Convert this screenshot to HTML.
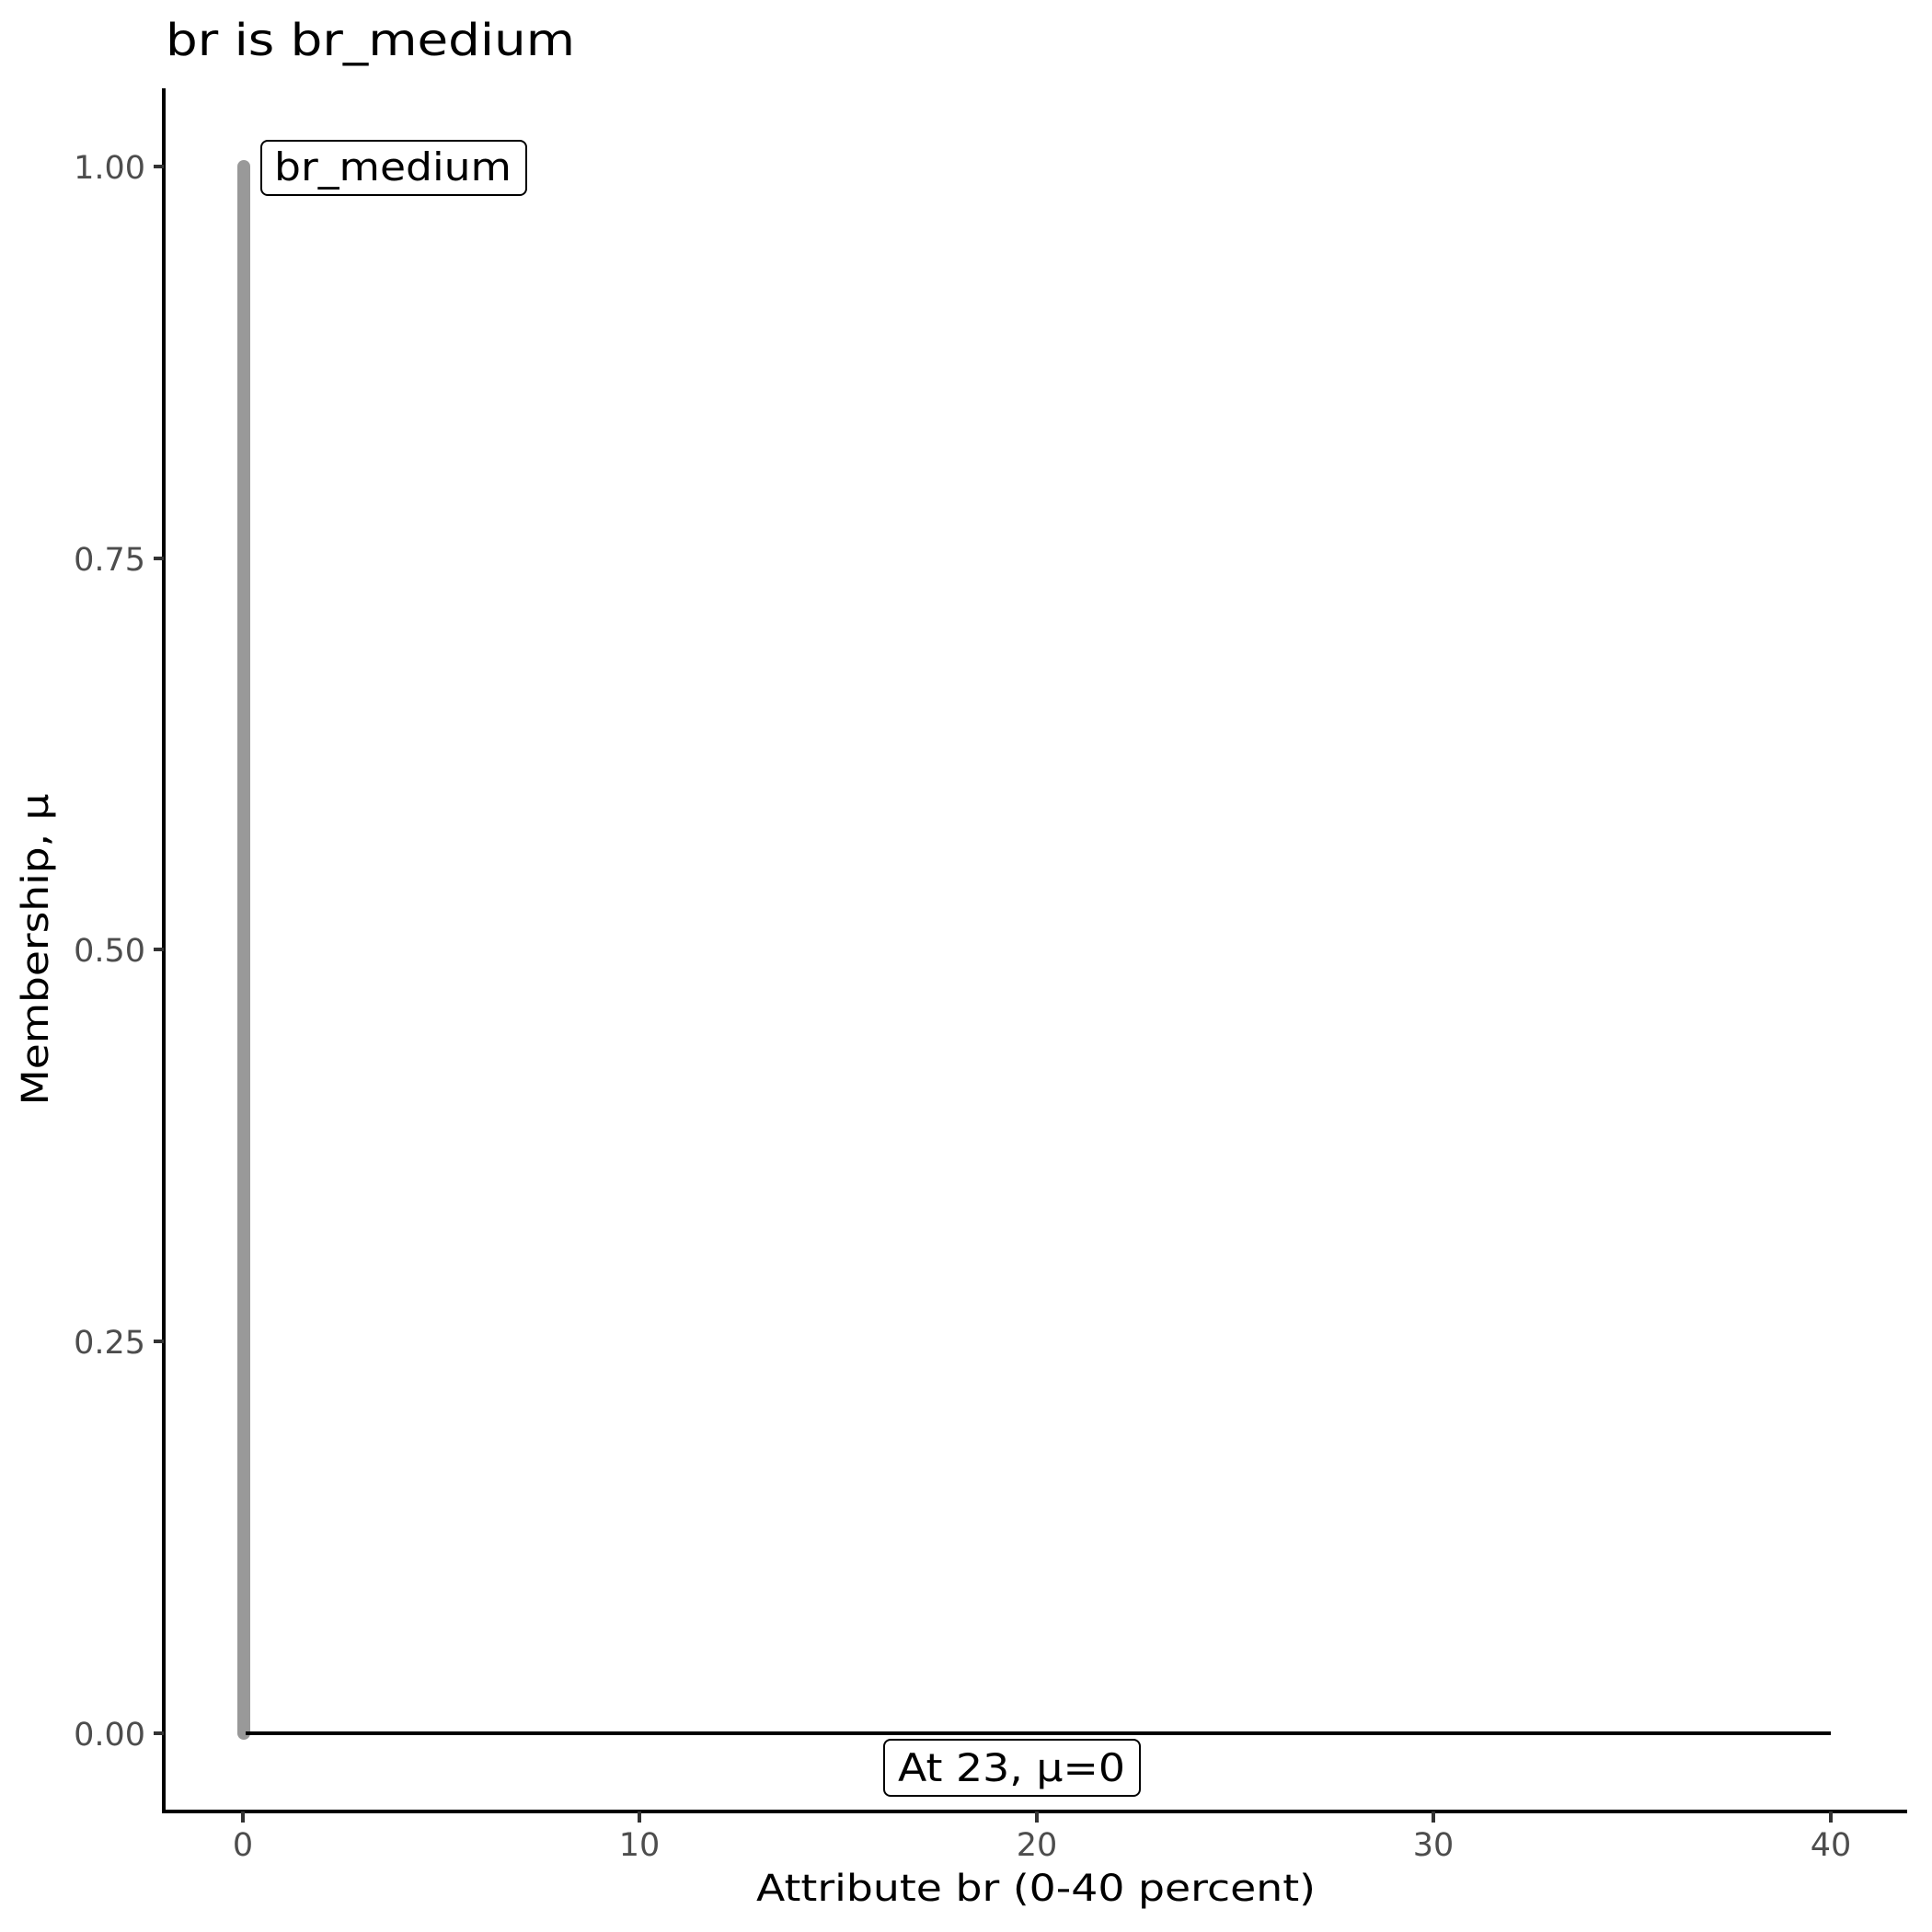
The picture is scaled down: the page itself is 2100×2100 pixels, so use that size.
<!DOCTYPE html>
<html><head><style>html,body{margin:0;padding:0;background:#fff}svg{display:block}</style></head>
<body>
<svg width="2100" height="2100" viewBox="0 0 2100 2100" xmlns="http://www.w3.org/2000/svg" font-family="DejaVu Sans, Liberation Sans, sans-serif">
<rect width="2100" height="2100" fill="#fff"/>
<text x="180" y="60" font-size="48" textLength="445" lengthAdjust="spacingAndGlyphs">br is br_medium</text>
<line x1="178" y1="96" x2="178" y2="1971" stroke="#000" stroke-width="4"/>
<line x1="176" y1="1969" x2="2073" y2="1969" stroke="#000" stroke-width="4"/>
<g stroke="#333" stroke-width="4">
<line x1="167" y1="181" x2="178" y2="181"/>
<line x1="167" y1="607" x2="178" y2="607"/>
<line x1="167" y1="1032" x2="178" y2="1032"/>
<line x1="167" y1="1458" x2="178" y2="1458"/>
<line x1="167" y1="1884" x2="178" y2="1884"/>
<line x1="264" y1="1969" x2="264" y2="1981"/>
<line x1="695" y1="1969" x2="695" y2="1981"/>
<line x1="1127" y1="1969" x2="1127" y2="1981"/>
<line x1="1558" y1="1969" x2="1558" y2="1981"/>
<line x1="1990" y1="1969" x2="1990" y2="1981"/>
</g>
<g font-size="35" fill="#4d4d4d" text-anchor="end">
<text x="158" y="194">1.00</text>
<text x="158" y="620">0.75</text>
<text x="158" y="1045">0.50</text>
<text x="158" y="1471">0.25</text>
<text x="158" y="1897">0.00</text>
</g>
<g font-size="35" fill="#4d4d4d" text-anchor="middle">
<text x="264" y="2017">0</text>
<text x="695" y="2017">10</text>
<text x="1127" y="2017">20</text>
<text x="1558" y="2017">30</text>
<text x="1990" y="2017">40</text>
</g>
<text x="1126" y="2066" font-size="40" text-anchor="middle" textLength="608" lengthAdjust="spacingAndGlyphs">Attribute br (0-40 percent)</text>
<text transform="translate(52,1032) rotate(-90)" font-size="40" text-anchor="middle" textLength="339" lengthAdjust="spacingAndGlyphs">Membership, μ</text>
<line x1="265" y1="181" x2="265" y2="1884" stroke="#999" stroke-width="14" stroke-linecap="round"/>
<rect x="258" y="1860" width="14" height="24" fill="#999"/>
<line x1="267" y1="1884" x2="1990" y2="1884" stroke="#000" stroke-width="4"/>
<rect x="284" y="153" width="288" height="59" rx="7" fill="#fff" stroke="#000" stroke-width="2"/>
<text x="298" y="196" font-size="42" textLength="258" lengthAdjust="spacingAndGlyphs">br_medium</text>
<rect x="961" y="1891" width="278" height="61" rx="7" fill="#fff" stroke="#000" stroke-width="2"/>
<text x="976" y="1936" font-size="42" textLength="247" lengthAdjust="spacingAndGlyphs">At 23, μ=0</text>
</svg>
</body></html>
